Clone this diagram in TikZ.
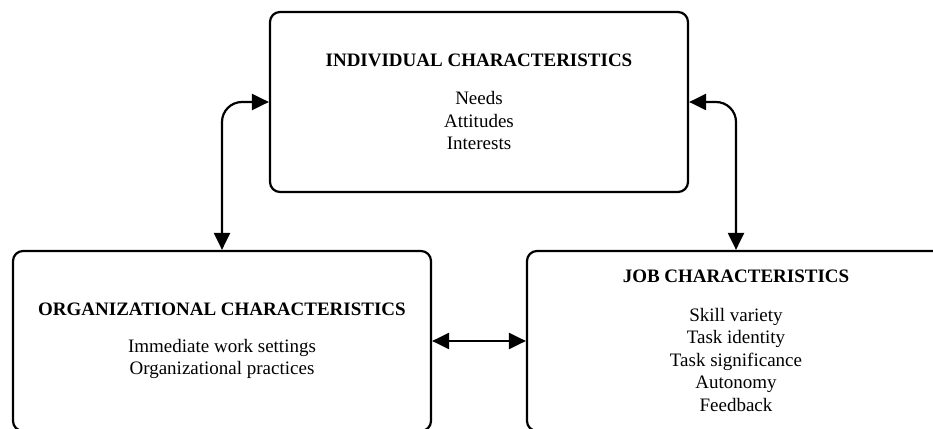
\documentclass[tikz,border=0pt]{standalone}
\usepackage{fontspec}
\setmainfont{Liberation Serif}
\usepackage{tikz}
\usetikzlibrary{arrows.meta,calc}

\tikzset{
  charbox/.style={draw,line width=2.2pt,rounded corners=10pt,minimum width=418pt,
    minimum height=180pt,inner sep=0pt,align=center,
    font=\fontsize{19}{22.5}\selectfont},
  link/.style={line width=2.2pt,{Triangle[length=17pt,width=16pt]}-{Triangle[length=17pt,width=16pt]}}
}

\begin{document}
\begin{tikzpicture}[x=1pt,y=1pt]
%\draw[help lines] (0,0) grid (933,428);
\clip (0,0) rectangle (933,428);

\node[charbox] (indiv) at (479,326) {\textbf{INDIVIDUAL CHARACTERISTICS}\\[16pt]
  Needs\\ Attitudes\\ Interests};
\node[charbox] (org) at (222,87) {\textbf{ORGANIZATIONAL CHARACTERISTICS}\\[14pt]
  Immediate work settings\\ Organizational practices};
\node[charbox] (job) at (736,87) {\textbf{JOB CHARACTERISTICS}\\[16pt]
  Skill variety\\ Task identity\\ Task significance\\ Autonomy\\ Feedback};

\draw[link,rounded corners=20pt] (org.north) |- (indiv.west);
\draw[link,rounded corners=20pt] (job.north) |- (indiv.east);
\draw[link] (org.east) -- (job.west);
\end{tikzpicture}
\end{document}
